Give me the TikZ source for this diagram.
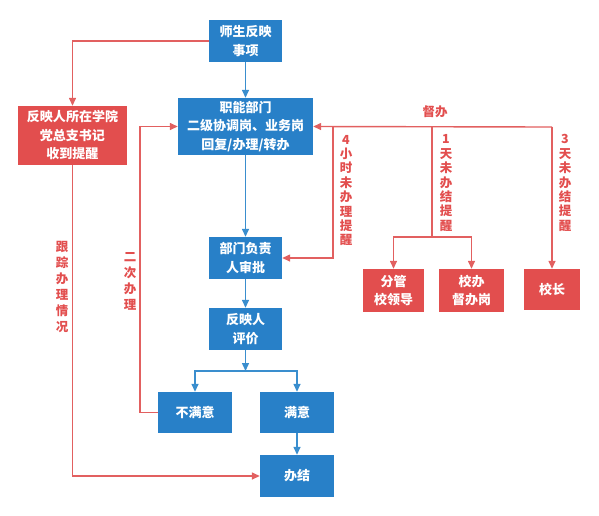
\documentclass[tikz,border=0pt]{standalone}
\usepackage{fontspec}
\setmainfont{Noto Sans CJK SC}
\usetikzlibrary{arrows.meta}
\definecolor{boxblue}{RGB}{40,128,200}
\definecolor{boxred}{RGB}{226,78,78}
\definecolor{lineblue}{RGB}{58,142,206}
\definecolor{linered}{RGB}{226,96,96}
\tikzset{
  bluebox/.style={fill=boxblue,text=white,font=\bfseries\fontsize{13}{18.5}\selectfont,align=center,inner sep=0pt},
  redbox/.style={fill=boxred,text=white,font=\bfseries\fontsize{13}{18.5}\selectfont,align=center,inner sep=0pt},
  blueline/.style={draw=lineblue,line width=1.4pt,-{Triangle[length=8pt,width=7pt]}},
  redline/.style={draw=linered,line width=1.4pt,-{Triangle[length=8pt,width=7pt]}},
  redlabel/.style={text=boxred,font=\bfseries\fontsize{12.5}{14.4}\selectfont,align=center,inner sep=0pt}
}
\begin{document}
\begin{tikzpicture}[x=1pt,y=-1pt]
  \useasboundingbox (0,0) rectangle (599,515);
  % blue boxes: name / x / y / width / height / text
  \foreach \id / \x / \y / \w / \h / \txt in {
      ask/245.5/41/73/42/{师生反映\\事项},
      dept/245.5/126.5/135/57/{职能部门\\二级协调岗、业务岗\\回复/办理/转办},
      head/245.5/258/73/42/{部门负责\\人审批},
      eval/245.5/329/73/42/{反映人\\评价},
      unsat/195/412.5/74/41/{不满意},
      sat/297/412.5/74/41/{满意},
      done/297/476/74/42/{办结}}{
    \node[bluebox,minimum width=\w,minimum height=\h] (\id) at (\x,\y) {\txt};
  }
  % red boxes
  \foreach \id / \x / \y / \w / \h / \txt in {
      college/72.5/135.5/109/59/{反映人所在学院\\党总支书记\\收到提醒},
      lead/393.5/290.5/61/43/{分管\\校领导},
      office/471.5/290.5/65/43/{校办\\督办岗},
      boss/552/289.5/56/41/{校长}}{
    \node[redbox,minimum width=\w,minimum height=\h] (\id) at (\x,\y) {\txt};
  }
  \coordinate (split) at (245.5,371);
  \coordinate (far) at (552,127);
  \coordinate (fork) at (432,237);
  % labels
  \node[redlabel,font=\bfseries\fontsize{12.5}{16}\selectfont] (track) at (62,287) {跟\\踪\\办\\理\\情\\况};
  \node[redlabel,font=\bfseries\fontsize{12.5}{16}\selectfont] (again) at (130,281) {二\\次\\办\\理};
  \node[redlabel] (urge) at (435,112) {督办};
  \node[redlabel] (four) at (346,190.5) {4\\小\\时\\未\\办\\理\\提\\醒};
  \node[redlabel] (one) at (446,183) {1\\天\\未\\办\\结\\提\\醒};
  \node[redlabel] (three) at (565,183) {3\\天\\未\\办\\结\\提\\醒};
  % blue flow
  \path[blueline] (ask) -- (dept);
  \path[blueline] (dept) -- (head);
  \path[blueline] (head) -- (eval);
  \path[blueline] (eval) -- (split);
  \path[blueline] (split) -| (unsat);
  \path[blueline] (split) -| (sat);
  \path[blueline] (sat) -- (done);
  % red flow
  \path[redline] (ask.west) -| (college.north);
  \path[redline] (college.south) |- (done.west);
  \path[redline] (unsat.west) -- ++(-18,0) |- (dept.west);
  \path[redline] (far) -- (dept.east);
  \path[redline] (333,127) |- (head.east);
  \path[redline] (far) -- (boss.north);
  \path[draw=linered,line width=1.4pt] (432,127) -- (fork);
  \path[redline] (fork) -| (lead.north);
  \path[redline] (fork) -| (office.north);
\end{tikzpicture}
\end{document}
